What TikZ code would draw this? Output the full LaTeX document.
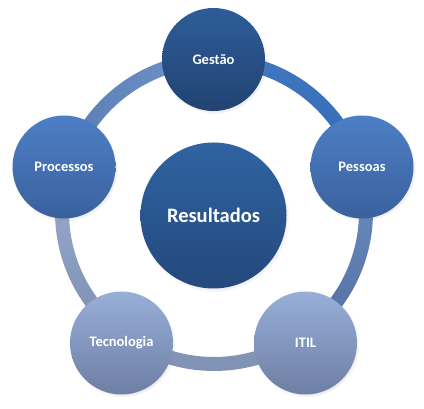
\documentclass[tikz,border=0pt]{standalone}
\usepackage{fontspec}
\setmainfont{Carlito}
\usetikzlibrary{shadows}
\usetikzlibrary{positioning}

\newcommand{\ringpart}[3]{%
  \shade[#3] (ctr) ++(#1:159) arc[start angle=#1, end angle=#2, radius=159]
    -- ++(#2+180:14) arc[start angle=#2, end angle=#1, radius=145] -- cycle;}

\begin{document}
\begin{tikzpicture}[x=1pt,y=1pt,
  ball/.style={circle, minimum size=103pt, inner sep=0pt, text=white,
    font=\bfseries\fontsize{14.5}{16}\selectfont,
    circular drop shadow={shadow xshift=1pt, shadow yshift=-1.5pt, shadow scale=1.03, opacity=0.35}},
]
\useasboundingbox (0,0) rectangle (424,409);
\coordinate (ctr) at (214,197);
% ring
\ringpart{90}{17}{top color={rgb,255:red,62;green,119;blue,194}, bottom color={rgb,255:red,50;green,100;blue,172}}
\ringpart{17}{-55}{top color={rgb,255:red,108;green,142;blue,196}, bottom color={rgb,255:red,84;green,110;blue,160}}
\ringpart{-55}{-125}{top color={rgb,255:red,143;green,160;blue,192}, bottom color={rgb,255:red,128;green,146;blue,180}}
\ringpart{-125}{-197}{top color={rgb,255:red,154;green,174;blue,210}, bottom color={rgb,255:red,124;green,141;blue,174}}
\ringpart{163}{90}{left color={rgb,255:red,90;green,124;blue,180}, right color={rgb,255:red,114;green,152;blue,204}}
% circles
\node[ball, minimum size=146pt, font=\bfseries\fontsize{20.5}{22}\selectfont,
  top color={rgb,255:red,48;green,100;blue,162}, bottom color={rgb,255:red,35;green,72;blue,124}]
  (result) at (213.5,193.5) {Resultados};
\node[ball, top color={rgb,255:red,46;green,92;blue,152}, bottom color={rgb,255:red,34;green,67;blue,115}]
  (gestao) at (213.5,349.5) {Gestão};
\node[ball, top color={rgb,255:red,77;green,127;blue,197}, bottom color={rgb,255:red,58;green,97;blue,158}]
  (pessoas) at (362,242) {Pessoas};
\node[ball, top color={rgb,255:red,77;green,127;blue,197}, bottom color={rgb,255:red,58;green,97;blue,158}]
  (processos) at (64,242) {Processos};
\node[ball, top color={rgb,255:red,152;green,175;blue,216}, bottom color={rgb,255:red,110;green,126;blue,164}]
  (itil) at (305.5,66) {ITIL};
\node[ball, top color={rgb,255:red,152;green,175;blue,216}, bottom color={rgb,255:red,110;green,126;blue,164}]
  (tecno) at (121.5,66) {Tecnologia};
\end{tikzpicture}
\end{document}
